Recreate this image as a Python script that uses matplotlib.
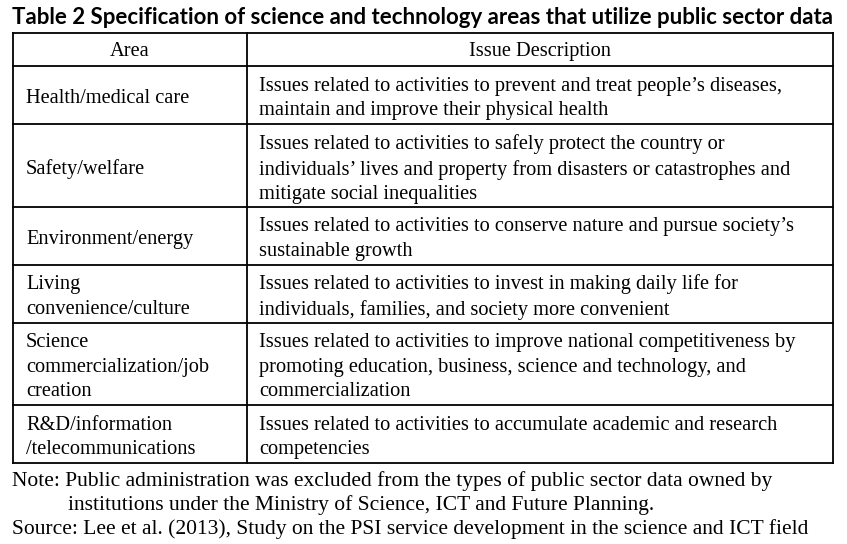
import matplotlib.pyplot as plt

# table content
title = "Table 2 Specification of science and technology areas that utilize public sector data"
headers = ["Area", "Issue Description"]
areas = [
    "Health/medical care",
    "Safety/welfare",
    "Environment/energy",
    "Living\nconvenience/culture",
    "Science\ncommercialization/job\ncreation",
    "R&D/information\n/telecommunications",
]
descriptions = [
    "Issues related to activities to prevent and treat people\u2019s diseases,\n"
    "maintain and improve their physical health",
    "Issues related to activities to safely protect the country or\n"
    "individuals\u2019 lives and property from disasters or catastrophes and\n"
    "mitigate social inequalities",
    "Issues related to activities to conserve nature and pursue society\u2019s\n"
    "sustainable growth",
    "Issues related to activities to invest in making daily life for\n"
    "individuals, families, and society more convenient",
    "Issues related to activities to improve national competitiveness by\n"
    "promoting education, business, science and technology, and\n"
    "commercialization",
    "Issues related to activities to accumulate academic and research\n"
    "competencies",
]
note_lines = [
    "Note: Public administration was excluded from the types of public sector data owned by",
    "institutions under the Ministry of Science, ICT and Future Planning.",
]
source = "Source: Lee et al. (2013), Study on the PSI service development in the science and ICT field"

W, H = 847, 544
fig = plt.figure(figsize=(W / 100, H / 100), dpi=100)
ax = fig.add_axes([0, 0, 1, 1])
ax.set_xlim(0, W)
ax.set_ylim(H, 0)
ax.axis("off")

serif = "Liberation Serif"
body_size = 14.7
line_h = 24.5
dy = 3.5  # nudge text down a little inside cells

x_left, x_mid, x_right = 12.5, 247, 832.5
y_top = 32.7

ax.text(W / 2 - 1, 18, title, ha="center", va="center", fontsize=16.0,
        fontweight="bold", family="Lato")

# header row
header_h = line_h + 9
y = y_top
ax.text((x_left + x_mid) / 2, y + header_h / 2 + 2.5, headers[0], ha="center",
        va="center", fontsize=body_size, family=serif)
ax.text((x_mid + x_right) / 2, y + header_h / 2 + 2.5, headers[1], ha="center",
        va="center", fontsize=body_size, family=serif)
bounds = [y, y + header_h]
y += header_h

for area, desc in zip(areas, descriptions):
    n = max(area.count("\n"), desc.count("\n")) + 1
    h = line_h * n + 9
    cy = y + h / 2 + dy
    ax.text(x_left + 13.5, cy, area, ha="left", va="center", fontsize=body_size,
            family=serif, linespacing=1.39)
    ax.text(x_mid + 12, cy, desc, ha="left", va="center", fontsize=body_size,
            family=serif, linespacing=1.39)
    y += h
    bounds.append(y)

lw = 1.3
for b in bounds:
    ax.plot([x_left, x_right], [b, b], color="black", lw=lw, solid_capstyle="projecting")
for xv in (x_left, x_mid, x_right):
    ax.plot([xv, xv], [bounds[0], bounds[-1]], color="black", lw=lw,
            solid_capstyle="projecting")

note_size = 15.45
ax.text(x_left, 481, note_lines[0], ha="left", va="center", fontsize=note_size, family=serif)
ax.text(68, 505, note_lines[1], ha="left", va="center", fontsize=note_size, family=serif)
ax.text(x_left, 529, source, ha="left", va="center", fontsize=note_size, family=serif)

fig.savefig("out.png", dpi=100, facecolor="white")
